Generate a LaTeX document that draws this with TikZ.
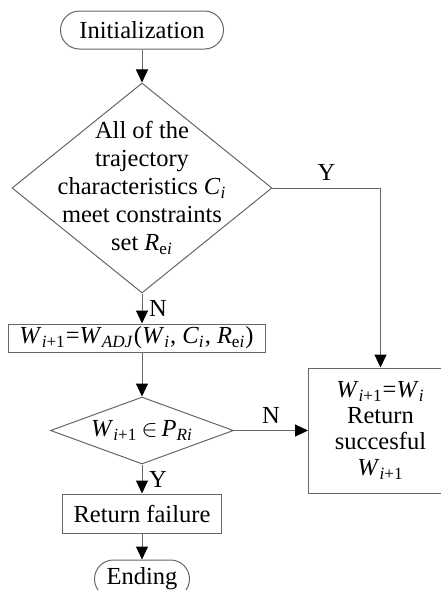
\documentclass[tikz,border=0pt]{standalone}
\usepackage{fontspec}
\setmainfont{Liberation Serif}
\usetikzlibrary{shapes.geometric, arrows.meta, positioning}
\tikzstyle{startstop} = [rectangle, rounded corners=9.5pt, minimum height=19pt, text centered, draw=black!60]
\tikzstyle{process} = [rectangle, minimum height=19.5pt, text centered, draw=black!60]
\tikzstyle{decision} = [diamond, inner sep=0pt, text centered, draw=black!60]
\tikzstyle{arrow} = [draw=black!60, -{Triangle[width=6pt,length=6.5pt,color=black]}]

\begin{document}
\begin{tikzpicture}[font=\fontsize{12.25}{13.5}\selectfont, line width=0.5pt]
        \useasboundingbox (0,0) rectangle (220pt,-295pt);
        % Main column
        \node (init) [startstop, minimum width=81.5pt] at (71pt,-15pt) {Initialization};
        \node (check) [decision, below=16.5pt of init, minimum width=130pt, minimum height=105pt,
            label={[align=center, font=\fontsize{12.25}{14}\selectfont]center:All of the\\trajectory\\characteristics \textit{C}\textsubscript{\textit{i}}\\meet constraints\\set \textit{R}\textsubscript{e\textit{i}}}] {};
        \node (adj) [process, below=15pt of check, xshift=-2.75pt, minimum width=128.5pt, minimum height=14pt, inner ysep=1pt] {\textit{W}\textsubscript{\textit{i}+1}=\textit{W}\textsubscript{\textit{ADJ}}(\textit{W}\textsubscript{\textit{i}}, \textit{C}\textsubscript{\textit{i}}, \textit{R}\textsubscript{e\textit{i}})};
        \node (inset) [decision, below=22pt of adj, xshift=2.75pt, minimum width=91.5pt, minimum height=33.5pt, shape aspect=2.7] {\textit{W}\textsubscript{\textit{i}+1}\,$\in$\,\textit{P}\textsubscript{\textit{Ri}}};
        \node (fail) [process, below=14.5pt of inset, minimum width=79.5pt] {Return failure};
        \node (ending) [startstop, below=13pt of fail, minimum width=47.5pt] {Ending};
        
        % Right box
        \node (succ) [process, right=37pt of inset, minimum width=72pt, minimum height=62.5pt, align=center, font=\fontsize{12.25}{13}\selectfont] {\textit{W}\textsubscript{\textit{i}+1}=\textit{W}\textsubscript{\textit{i}}\\Return\\succesful\\\textit{W}\textsubscript{\textit{i}+1}};
        
        % Arrows
        \draw [arrow] (init) -- (check);
        \draw [arrow] (check) -- node[right] {N} (check.south |- adj.north);
        \draw [arrow] (adj.south -| inset) -- (inset);
        \draw [arrow] (inset) -- node[right] {Y} (fail);
        \draw [arrow] (fail) -- (ending);
        \draw [arrow] (inset) -- node[above] {N} (succ);
        \draw [arrow] (check) -| node[pos=0.25, above] {Y} (succ);
    \end{tikzpicture}
\end{document}
